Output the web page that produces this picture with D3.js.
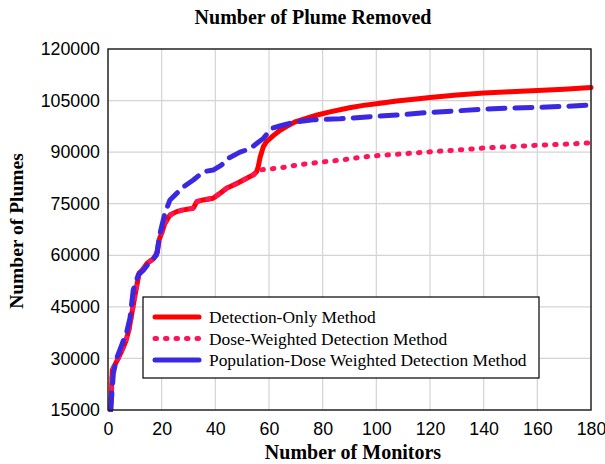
<!DOCTYPE html>
<html>
<head>
<meta charset="utf-8">
<script src="https://cdn.jsdelivr.net/npm/d3@7"></script>
<style>
  body { margin: 0; background: #fff; }
  svg text { fill: #000; }
  .tick-label { font-family: "Liberation Sans", Arial, sans-serif; font-size: 17.8px; }
  .serif { font-family: "Liberation Serif", "Times New Roman", serif; }
</style>
</head>
<body>
<svg id="chart"></svg>
<script>
// monitors count (x) and plumes removed (y)
const detectionX = [1, 1.6, 2.9, 4.1, 5.3, 6.6, 7.8, 9.1, 10.3, 11.6, 12.8, 14.6, 17.1, 18.4, 19, 20.2, 21.2, 23.1, 25.6, 28.1, 31.8, 33.1, 35.5, 39.2, 41.7, 44.2, 48, 51.7, 54.2, 55.4, 56, 56.7, 57.9, 59, 61.6, 64, 66.6, 70, 74.1, 78, 82.7, 90, 95.2, 100, 107.6, 114, 120, 130, 140, 150, 160, 170, 180];
const detectionY = [15000, 26600, 28600, 30500, 32500, 34900, 38300, 44100, 49400, 54800, 55700, 57700, 59100, 61000, 64400, 66900, 69300, 71700, 72700, 73200, 73700, 75600, 76100, 76600, 78000, 79500, 80900, 82400, 83400, 84300, 85800, 88500, 91600, 93000, 94800, 96300, 97500, 98900, 99900, 100800, 101700, 102900, 103600, 104100, 104900, 105400, 105900, 106600, 107200, 107600, 107900, 108300, 108800];

const doseX = [1, 1.6, 2.9, 4.1, 5.3, 6.6, 7.8, 9.1, 10.3, 11.6, 12.8, 14.6, 17.1, 18.4, 19, 20.2, 21.2, 23.1, 25.6, 28.1, 31.8, 33.1, 35.5, 39.2, 41.7, 44.2, 48, 51.7, 54.2, 55.4, 56, 60, 64, 70, 76, 83, 90, 95, 102, 108, 120, 130, 140, 150, 160, 170, 180];
const doseY = [15000, 26600, 28600, 30500, 32500, 34900, 38300, 44100, 49400, 54800, 55700, 57700, 59100, 61000, 64400, 66900, 69300, 71700, 72700, 73200, 73700, 75600, 76100, 76600, 78000, 79500, 80900, 82400, 83400, 84300, 84800, 85100, 85400, 86200, 86800, 87400, 88000, 88600, 89100, 89400, 90100, 90600, 91200, 91600, 92000, 92300, 92700];

const populationX = [1, 2, 3.2, 5.1, 7, 8.2, 9.4, 11.3, 13.2, 15.7, 18.1, 19.4, 21.2, 23.1, 25.6, 28.1, 31.8, 35.5, 39.2, 42.4, 44.8, 49.2, 52.9, 55.4, 57.9, 61, 64, 67.8, 72, 76.5, 86.5, 97.7, 107.6, 118.8, 130, 140, 150, 160, 170, 180];
const populationY = [15000, 25700, 30000, 33900, 37800, 41700, 49900, 54300, 55700, 58100, 60100, 66400, 72200, 76100, 78000, 79900, 81900, 84300, 84800, 86300, 88200, 90000, 91000, 92500, 94000, 96900, 97600, 98400, 99000, 99400, 99700, 100300, 100800, 101500, 102000, 102500, 102800, 103000, 103300, 103700];

const xTicks = [0, 20, 40, 60, 80, 100, 120, 140, 160, 180];
const yTicks = [15000, 30000, 45000, 60000, 75000, 90000, 105000, 120000];

const seriesNames = ["Detection-Only Method", "Dose-Weighted Detection Method", "Population-Dose Weighted Detection Method"];

const width = 605, height = 464;
const margin = { top: 49, right: 14, bottom: 54, left: 108 };

const svg = d3.select("#chart").attr("width", width).attr("height", height);

const x = d3.scaleLinear().domain([0, 180]).range([margin.left, width - margin.right]);
const y = d3.scaleLinear().domain([15000, 120000]).range([height - margin.bottom, margin.top]);

// grid
svg.append("g")
    .attr("stroke", "#d4d4d4")
    .attr("stroke-width", 1.2)
  .selectAll("line.v")
  .data(xTicks.slice(1, -1))
  .join("line")
    .attr("x1", d => x(d)).attr("x2", d => x(d))
    .attr("y1", y(120000)).attr("y2", y(15000));

svg.append("g")
    .attr("stroke", "#d4d4d4")
    .attr("stroke-width", 1.2)
  .selectAll("line.h")
  .data(yTicks.slice(1, -1))
  .join("line")
    .attr("x1", x(0)).attr("x2", x(180))
    .attr("y1", d => y(d)).attr("y2", d => y(d));

// axes, labels only
const xAxis = d3.axisBottom(x).tickValues(xTicks).tickSize(0).tickPadding(12).tickFormat(d3.format("d"));
svg.append("g")
    .attr("transform", `translate(0,${y(15000)})`)
    .call(xAxis)
    .call(g => g.select(".domain").remove())
    .call(g => g.selectAll("text").attr("class", "tick-label").attr("fill", "#000"));

const yAxis = d3.axisLeft(y).tickValues(yTicks).tickSize(0).tickPadding(8).tickFormat(d3.format("d"));
svg.append("g")
    .attr("transform", `translate(${x(0)},0)`)
    .call(yAxis)
    .call(g => g.select(".domain").remove())
    .call(g => g.selectAll("text").attr("class", "tick-label").attr("fill", "#000"));

svg.append("clipPath").attr("id", "plot-clip")
  .append("rect")
    .attr("x", x(0)).attr("y", y(120000) - 2)
    .attr("width", x(180) - x(0) + 3).attr("height", y(15000) - y(120000) + 4);

const line = d3.line().x(d => x(d[0])).y(d => y(d[1]));

const plot = svg.append("g").attr("clip-path", "url(#plot-clip)");

const styles = [
  { color: "#ff0000", dash: null },
  { color: "#ff1459", dash: "1.5,9" },
  { color: "#3b28e2", dash: "17,10" }
];

const data = [
  d3.zip(detectionX, detectionY),
  d3.zip(doseX, doseY),
  d3.zip(populationX, populationY)
];

plot.selectAll("path.series")
  .data(data)
  .join("path")
    .attr("fill", "none")
    .attr("stroke", (d, i) => styles[i].color)
    .attr("stroke-width", 5)
    .attr("stroke-linecap", "round")
    .attr("stroke-linejoin", "round")
    .attr("stroke-dasharray", (d, i) => styles[i].dash)
    .attr("d", line);

// frame
svg.append("rect")
    .attr("x", x(0)).attr("y", y(120000))
    .attr("width", x(180) - x(0)).attr("height", y(15000) - y(120000))
    .attr("fill", "none")
    .attr("stroke", "#222")
    .attr("stroke-width", 1.5);

// legend
const legend = svg.append("g").attr("transform", "translate(143,297)");
legend.append("rect")
    .attr("width", 396).attr("height", 81)
    .attr("fill", "#fff")
    .attr("stroke", "#000")
    .attr("stroke-width", 1.2);

const rows = legend.selectAll("g.row")
  .data(seriesNames)
  .join("g")
    .attr("transform", (d, i) => `translate(0,${20 + i * 21.5})`);

rows.append("line")
    .attr("x1", 12).attr("x2", 56)
    .attr("stroke", (d, i) => styles[i].color)
    .attr("stroke-width", 5)
    .attr("stroke-linecap", "round")
    .attr("stroke-dasharray", (d, i) => i === 2 ? null : styles[i].dash);

rows.append("text")
    .attr("class", "serif")
    .attr("x", 66)
    .attr("dy", "0.35em")
    .attr("font-size", 17.4)
    .text(d => d);

// titles
svg.append("text")
    .attr("class", "serif")
    .attr("x", 313).attr("y", 24)
    .attr("text-anchor", "middle")
    .attr("font-size", 20)
    .attr("font-weight", "bold")
    .text("Number of Plume Removed");

svg.append("text")
    .attr("class", "serif")
    .attr("x", 353).attr("y", 459)
    .attr("text-anchor", "middle")
    .attr("font-size", 20)
    .attr("font-weight", "bold")
    .text("Number of Monitors");

svg.append("text")
    .attr("class", "serif")
    .attr("transform", "translate(23,231) rotate(-90)")
    .attr("text-anchor", "middle")
    .attr("font-size", 19.5)
    .attr("font-weight", "bold")
    .text("Number of Plumes");
</script>
</body>
</html>
